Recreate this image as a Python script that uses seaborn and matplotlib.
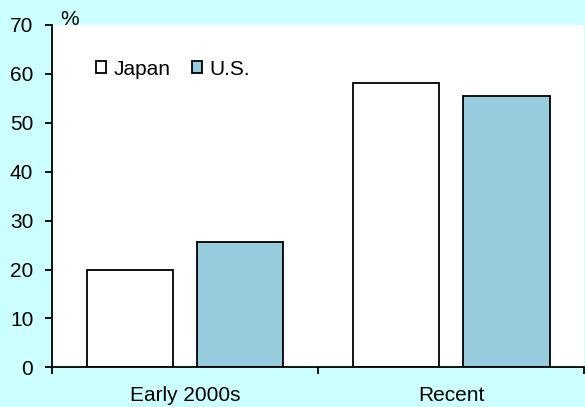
import pandas as pd
import matplotlib
matplotlib.use("Agg")
import matplotlib.pyplot as plt
import seaborn as sns

# data
periods = ["Early 2000s", "Recent"]
countries = ["Japan", "U.S."]
japan_vals = [20.0, 58.2]
us_vals = [25.6, 55.4]
y_ticks = [0, 10, 20, 30, 40, 50, 60, 70]

df = pd.DataFrame({
    "period": periods * 2,
    "country": [countries[0]] * len(periods) + [countries[1]] * len(periods),
    "value": japan_vals + us_vals,
})

sns.set_style("white")
plt.rcParams["font.family"] = ["Liberation Sans", "DejaVu Sans"]
plt.rcParams["text.color"] = "black"
plt.rcParams["xtick.color"] = "black"
plt.rcParams["ytick.color"] = "black"

fig, ax = plt.subplots(figsize=(5.85, 4.07), dpi=100)
fig.patch.set_facecolor("#CCFFFF")
ax.set_facecolor("white")
fig.subplots_adjust(left=0.0889, right=0.999, bottom=0.0975, top=0.9386)

sns.barplot(data=df, x="period", y="value", hue="country", order=periods,
            hue_order=countries, palette=["white", "#96CCDD"], saturation=1,
            edgecolor="black", linewidth=1.3, width=0.83, gap=0.22, ax=ax)

ax.set_xlim(-0.5, 1.5)
ax.set_ylim(0, 70)
ax.set_yticks(y_ticks)
ax.set_xlabel("")
ax.set_ylabel("")

# category boundaries get the tick marks, centres get the labels
ax.set_xticks([-0.5, 0.5, 1.5])
ax.set_xticklabels([])
ax.set_xticks([0, 1], minor=True)
ax.set_xticklabels(periods, minor=True)
ax.tick_params(axis="x", which="major", direction="out", length=5, width=1.3,
               color="black", bottom=True)
ax.tick_params(axis="x", which="minor", length=0, pad=13.5, labelsize=15,
               labelcolor="black")
ax.tick_params(axis="y", direction="out", length=5, width=1.3, color="black",
               left=True, pad=8.5, labelsize=15, labelcolor="black")

sns.despine(ax=ax, top=True, right=True)
for side in ["left", "bottom"]:
    ax.spines[side].set_color("black")
    ax.spines[side].set_linewidth(1.3)

ax.text(0.015, 1.0, "%", transform=ax.transAxes, fontsize=15, color="black",
        ha="left", va="baseline")

leg = ax.legend(loc="center left", bbox_to_anchor=(0.083, 0.871), ncol=2,
                frameon=False, fontsize=15, handlelength=0.48,
                handleheight=0.48, handletextpad=0.34, columnspacing=1.05,
                borderpad=0, borderaxespad=0)
for t in leg.get_texts():
    t.set_color("black")

fig.savefig("out.png", dpi=100, facecolor=fig.get_facecolor())
